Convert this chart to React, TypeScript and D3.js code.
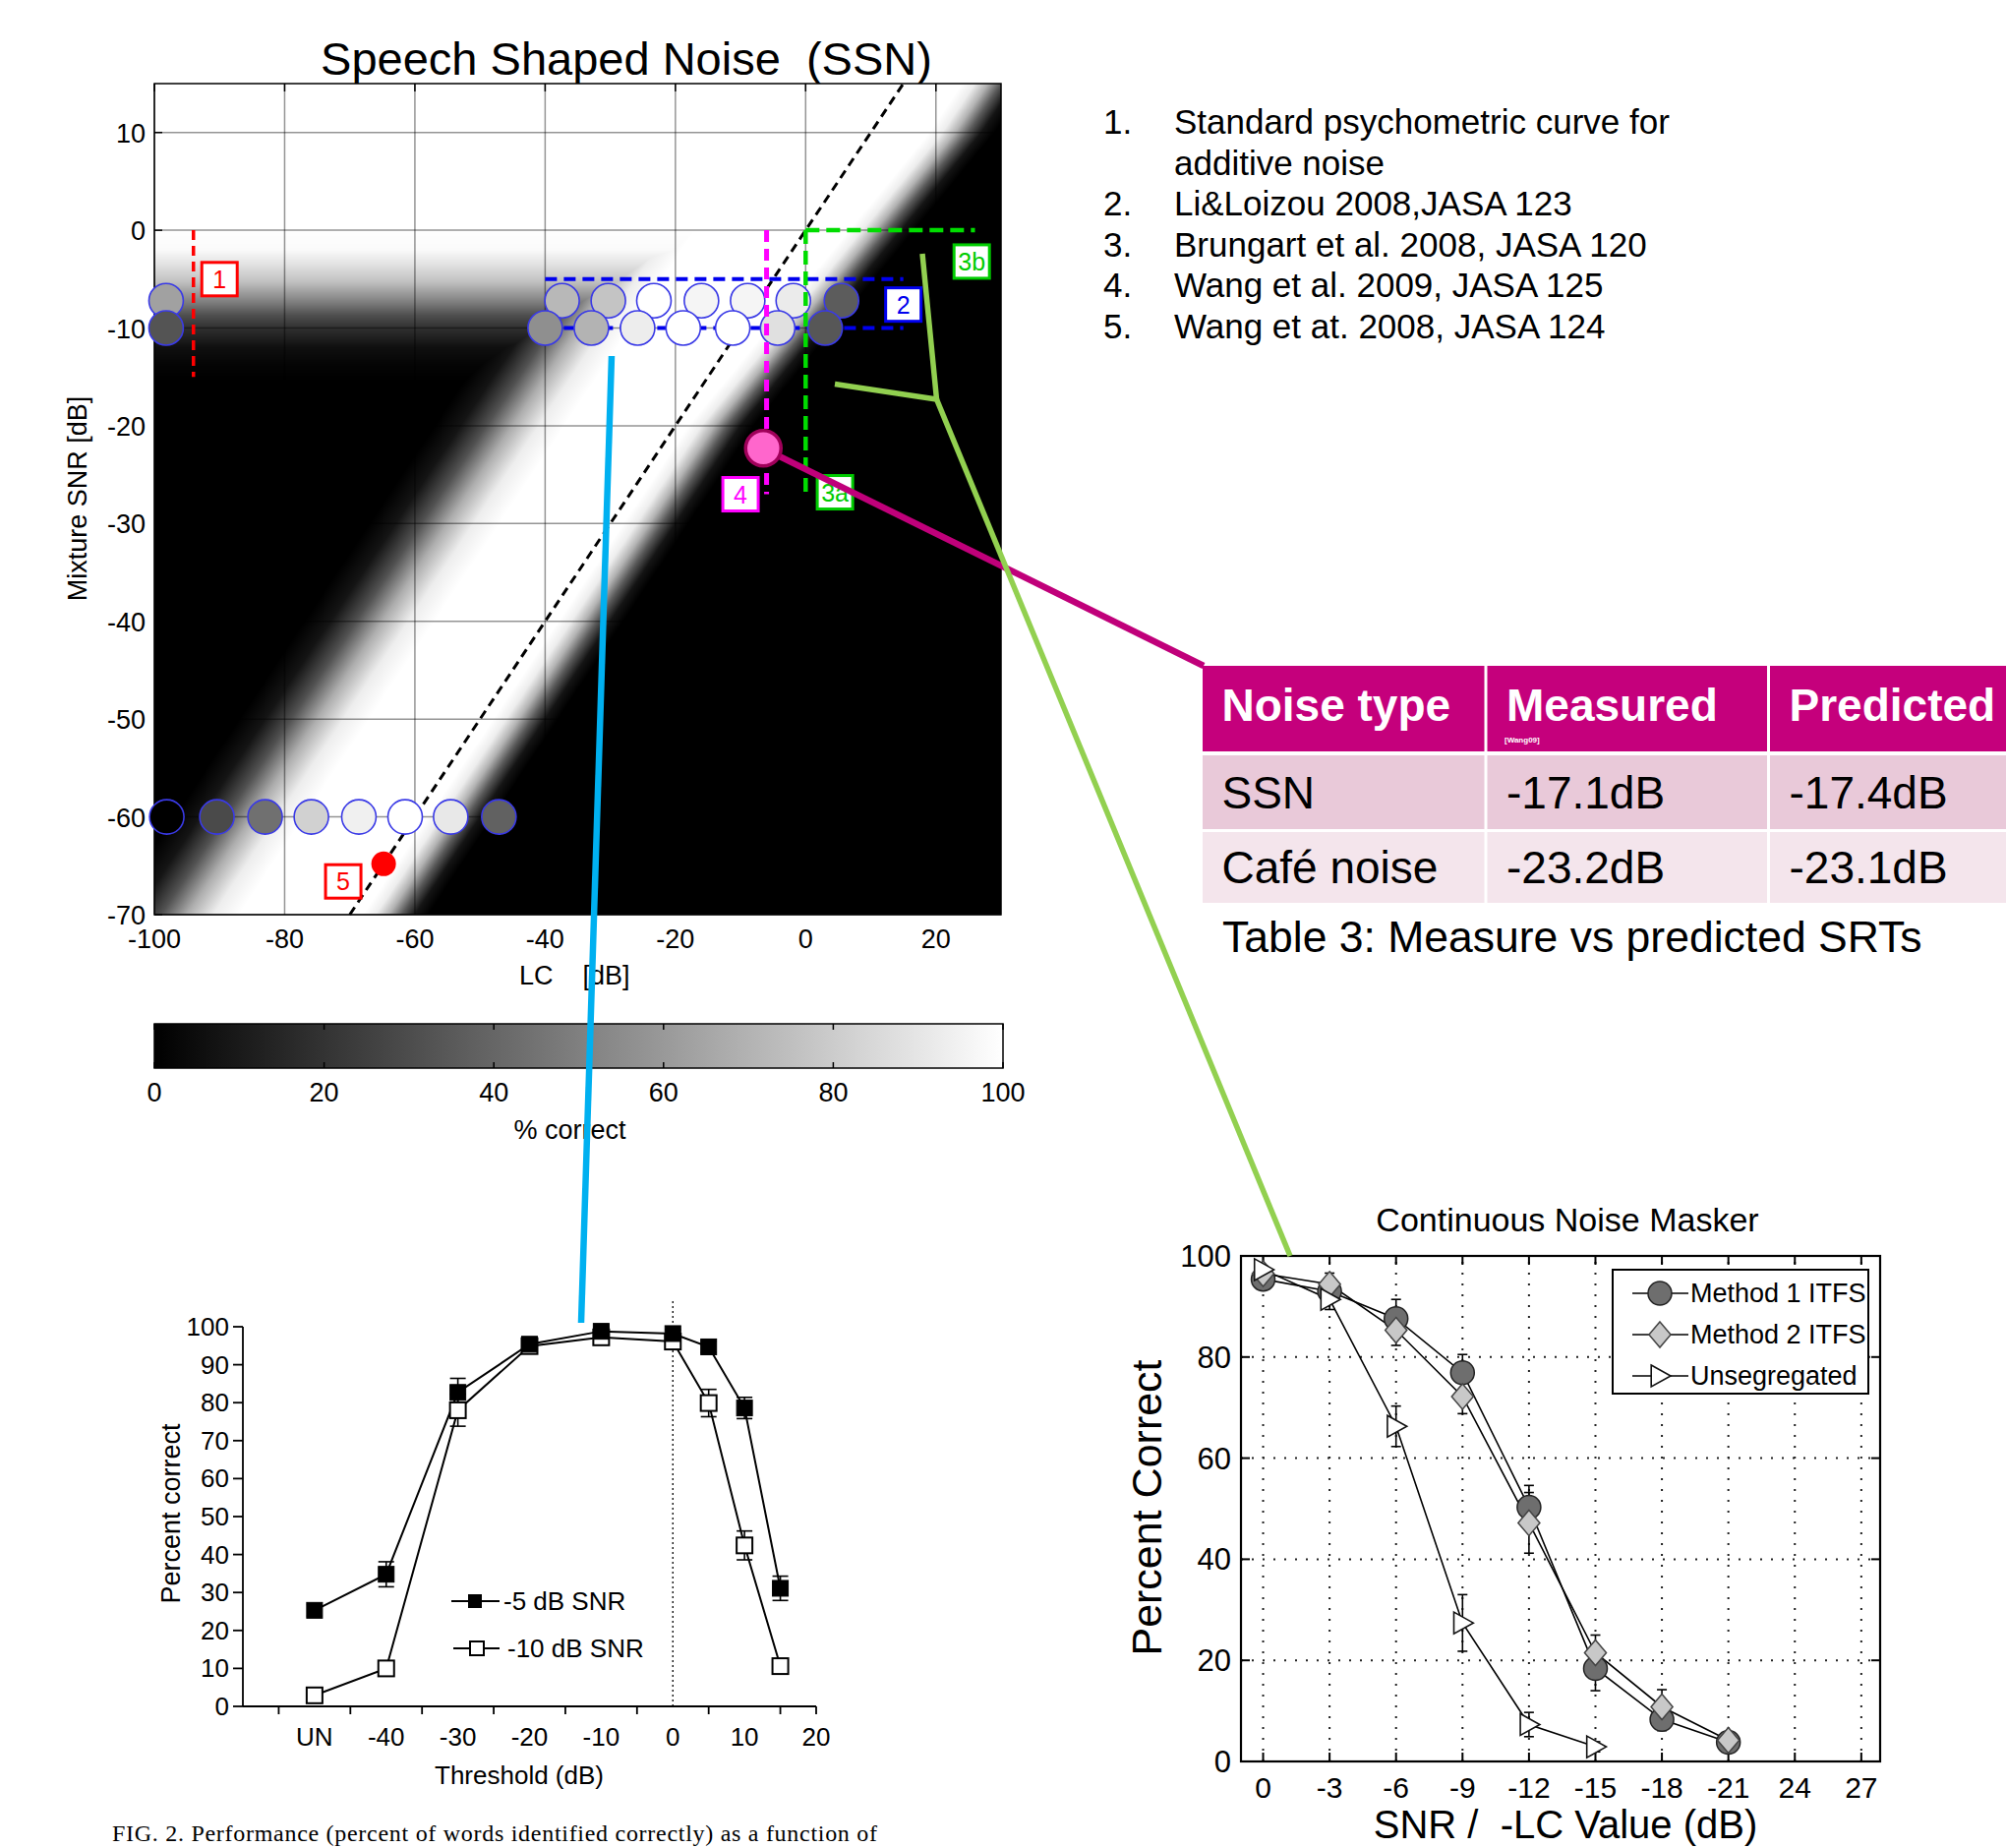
import React, { useMemo } from 'react';
import * as d3 from 'd3';

const F = "'Liberation Sans', Arial, Helvetica, sans-serif";

// ---------- Heatmap (Speech Shaped Noise) ----------
const lcTicks = [-100, -80, -60, -40, -20, 0, 20];
const snrTicks = [10, 0, -10, -20, -30, -40, -50, -60, -70];
const cbTicks = [0, 20, 40, 60, 80, 100];
// intelligibility profile across relative criterion d = LC - SNR
const bandLeftD = [-37, -33, -29, -25, -21, -17];
const bandLeftV = [0, 0.08, 0.32, 0.68, 0.93, 1];
const bandRightD = [2, 4, 6, 8, 10, 12];
const bandRightV = [1, 0.93, 0.7, 0.35, 0.08, 0];
// psychometric curve for unprocessed mixture (far-left region)
const psychSNR = [-15.4, -13.7, -12, -10, -8.7, -7, -5.3, -3.6, -2, 0];
const psychV = [0, 0.02, 0.06, 0.19, 0.31, 0.54, 0.75, 0.88, 0.98, 1];
const rightShiftSNR = [-20, 10];
const rightShiftV = [0, 7];

// data circles on heatmap
const circA_SNR = -7.2;
const circA_LC = [-98.2, -37.4, -30.3, -23.3, -16.0, -8.9, -1.9, 5.5];
const circA_PC = [63, 72, 77, 100, 96, 96, 92, 36];
const circB_SNR = -10;
const circB_LC = [-98.2, -40, -32.9, -25.8, -18.8, -11.2, -4.3, 3.0];
const circB_PC = [33, 56, 70, 93, 100, 100, 88, 34];
const circC_SNR = -60;
const circC_LC = [-98.1, -90.4, -83.0, -75.9, -68.6, -61.5, -54.5, -47.1];
const circC_PC = [0, 29, 44, 82, 94, 100, 91, 38];

// ---------- Text list ----------
const refNums = ['1.', '', '2.', '3.', '4.', '5.'];
const refTexts = [
  'Standard psychometric curve for',
  'additive noise',
  'Li&Loizou 2008,JASA 123',
  'Brungart et al. 2008, JASA 120',
  'Wang et al. 2009, JASA 125',
  'Wang et at. 2008, JASA 124',
];

// ---------- Table ----------
const tableHeaders = ['Noise type', 'Measured', 'Predicted'];
const tableRow1 = ['SSN', '-17.1dB', '-17.4dB'];
const tableRow2 = ['Café noise', '-23.2dB', '-23.1dB'];

// ---------- Bottom-left (Brungart FIG. 2) ----------
const blX = [-50, -40, -30, -20, -10, 0, 5, 10, 15];
const blTickVals = [-50, -40, -30, -20, -10, 0, 10, 20];
const blTickLabels = ['UN', '-40', '-30', '-20', '-10', '0', '10', '20'];
const blMinorTicks = [-55, -45, -35, -25, -15, -5, 5, 15, 20];
const blYTicks = [0, 10, 20, 30, 40, 50, 60, 70, 80, 90, 100];
const snr5 = [25.3, 34.8, 82.7, 95.4, 98.8, 98.2, 94.7, 78.6, 31.1];
const snr5Err = [1.5, 3.3, 3.7, 1.2, 1, 1, 1.5, 2.8, 3.2];
const snr10 = [2.9, 10, 78, 94.9, 97.2, 96.1, 79.9, 42.4, 10.6];
const snr10Err = [0.8, 0.8, 4.2, 1, 1, 1, 3.6, 3.8, 1];

// ---------- Bottom-right (Continuous Noise Masker) ----------
const brX = [0, 3, 6, 9, 12, 15, 18, 21];
const brTickVals = [0, 3, 6, 9, 12, 15, 18, 21, 24, 27];
const brTickLabels = ['0', '-3', '-6', '-9', '-12', '-15', '-18', '-21', '24', '27'];
const brYTicks = [0, 20, 40, 60, 80, 100];
const method1 = [95.4, 93, 87.6, 76.9, 50.3, 18.4, 8.3, 3.8];
const method1Err = [1.5, 2, 3.8, 3.6, 4.3, 4.4, 2.2, 1];
const method2 = [96.5, 94.4, 85.3, 72.2, 47.2, 21.5, 10.8, 4.2];
const method2Err = [1.5, 2.2, 3, 3.4, 6, 3.5, 3.4, 1];
const unsegX = [0, 3, 6, 9, 12, 15];
const unseg = [97.3, 91.4, 66.3, 27.4, 7.3, 2.9];
const unsegErr = [2.7, 2, 4, 5.6, 2.4, 1];

// ---------- scales ----------
const hmX = d3.scaleLinear().domain([-100, 30]).range([157, 1018]);
const hmY = d3.scaleLinear().domain([-70, 15]).range([930, 85]);
const cbX = d3.scaleLinear().domain([0, 100]).range([157, 1020]);
const blXs = d3.scaleLinear().domain([-60, 20]).range([247, 830]);
const blYs = d3.scaleLinear().domain([0, 100]).range([1735, 1349]);
const brXs = d3.scaleLinear().domain([-1, 27.85]).range([1262, 1912]);
const brYs = d3.scaleLinear().domain([0, 100]).range([1791, 1277]);

function buildHeatmap(): string {
  const x0 = hmX.range()[0], x1 = hmX.range()[1];
  const y0 = hmY.range()[1], y1 = hmY.range()[0];
  const w = Math.round(x1 - x0), h = Math.round(y1 - y0);
  const canvas = document.createElement('canvas');
  canvas.width = w; canvas.height = h;
  const ctx = canvas.getContext('2d');
  if (!ctx) return '';
  const img = ctx.createImageData(w, h);
  const L = d3.scaleLinear().domain(bandLeftD).range(bandLeftV).clamp(true);
  const R = d3.scaleLinear().domain(bandRightD).range(bandRightV).clamp(true);
  const P = d3.scaleLinear().domain(psychSNR).range(psychV).clamp(true);
  const S = d3.scaleLinear().domain(rightShiftSNR).range(rightShiftV).clamp(true);
  for (let j = 0; j < h; j++) {
    const snr = hmY.invert(y0 + j + 0.5);
    const p = P(snr);
    const s = S(snr);
    for (let i = 0; i < w; i++) {
      const lc = hmX.invert(x0 + i + 0.5);
      const d = lc - snr;
      const v = R(d - s) * Math.max(L(d), p);
      const g = Math.round(v * 255);
      const k = (j * w + i) * 4;
      img.data[k] = g; img.data[k + 1] = g; img.data[k + 2] = g; img.data[k + 3] = 255;
    }
  }
  ctx.putImageData(img, 0, 0);
  return canvas.toDataURL();
}

const gray = (pc: number) => {
  const g = Math.round((pc / 100) * 255);
  return `rgb(${g},${g},${g})`;
};

function LabelBox({ x, y, text, color, w = 36 }: { x: number; y: number; text: string; color: string; w?: number }) {
  return (
    <g>
      <rect x={x - w / 2} y={y - 17} width={w} height={34} fill="#fff" stroke={color} strokeWidth={3} />
      <text x={x} y={y + 9} textAnchor="middle" fontSize={25} fill={color}>{text}</text>
    </g>
  );
}

function ErrBar({ x, y0, y1, cap }: { x: number; y0: number; y1: number; cap: number }) {
  return (
    <g stroke="#000" strokeWidth={1.6}>
      <line x1={x} x2={x} y1={y0} y2={y1} />
      <line x1={x - cap} x2={x + cap} y1={y0} y2={y0} />
      <line x1={x - cap} x2={x + cap} y1={y1} y2={y1} />
    </g>
  );
}

const Diamond = ({ x, y, s }: { x: number; y: number; s: number }) => (
  <path d={`M${x},${y - s}L${x + s * 0.85},${y}L${x},${y + s}L${x - s * 0.85},${y}Z`} fill="#c8c8c8" stroke="#444" strokeWidth={1.5} />
);
const Tri = ({ x, y, s }: { x: number; y: number; s: number }) => (
  <path d={`M${x - s * 0.8},${y - s}L${x + s},${y}L${x - s * 0.8},${y + s}Z`} fill="#fff" stroke="#111" strokeWidth={1.6} />
);
const Circ = ({ x, y, r }: { x: number; y: number; r: number }) => (
  <circle cx={x} cy={y} r={r} fill="#6e6e6e" stroke="#222" strokeWidth={1.5} />
);

export default function App() {
  const heat = useMemo(() => buildHeatmap(), []);

  const [hx0, hx1] = hmX.range();
  const [hy1, hy0] = hmY.range();

  const blLine = d3.line<number>().x((_, i) => blXs(blX[i])).y((v) => blYs(v));
  const brLine = d3.line<number>().x((_, i) => brXs(brX[i])).y((v) => brYs(v));
  const unLine = d3.line<number>().x((_, i) => brXs(unsegX[i])).y((v) => brYs(v));

  const circleRows = [
    { snr: circA_SNR, lc: circA_LC, pc: circA_PC },
    { snr: circB_SNR, lc: circB_LC, pc: circB_PC },
    { snr: circC_SNR, lc: circC_LC, pc: circC_PC },
  ];

  // table geometry
  const colX = [1223, 1512.5, 1800];
  const colW = [286.5, 284.5, 260];
  const rowY = [677, 768, 846];
  const rowH = [87, 75, 72];
  const rowFill = ['#c5007c', '#e9c9d9', '#f4e5ec'];

  return (
    <svg width={2040} height={1879} style={{ position: 'absolute', left: 0, top: 0, background: '#fff' }} fontFamily={F}>
      <rect x={0} y={0} width={2040} height={1879} fill="#fff" />

      {/* ===== Heatmap ===== */}
      <text x={637} y={76} textAnchor="middle" fontSize={47} style={{ whiteSpace: 'pre' }}>Speech Shaped Noise  (SSN)</text>
      {heat && <image href={heat} x={hx0} y={hy0} width={hx1 - hx0} height={hy1 - hy0} preserveAspectRatio="none" />}
      <g stroke="#000" strokeOpacity={0.42} strokeWidth={1.5}>
        {lcTicks.map((t) => <line key={'gx' + t} x1={hmX(t)} x2={hmX(t)} y1={hy0} y2={hy1} />)}
        {snrTicks.map((t) => <line key={'gy' + t} x1={hx0} x2={hx1} y1={hmY(t)} y2={hmY(t)} />)}
      </g>
      <g stroke="#000" strokeWidth={1.5}>
        {lcTicks.map((t) => <line key={'tt' + t} x1={hmX(t)} x2={hmX(t)} y1={hy0} y2={hy0 + 8} />)}
        {snrTicks.map((t) => <line key={'lt' + t} x1={hx0} x2={hx0 + 8} y1={hmY(t)} y2={hmY(t)} />)}
      </g>
      <rect x={hx0} y={hy0} width={hx1 - hx0} height={hy1 - hy0} fill="none" stroke="#000" strokeWidth={1.5} />
      {lcTicks.map((t) => (
        <text key={'xl' + t} x={hmX(t)} y={964} textAnchor="middle" fontSize={27}>{t}</text>
      ))}
      {snrTicks.map((t) => (
        <text key={'yl' + t} x={148} y={hmY(t) + 10} textAnchor="end" fontSize={27}>{t}</text>
      ))}
      <text transform="translate(88,507) rotate(-90)" textAnchor="middle" fontSize={27}>Mixture SNR [dB]</text>
      <text x={528} y={1001} fontSize={27} style={{ whiteSpace: 'pre' }}>LC    [dB]</text>

      {/* diagonal dashed line LC = SNR */}
      <line x1={hmX(-70)} y1={hmY(-70)} x2={hmX(15)} y2={hmY(15)} stroke="#000" strokeWidth={3} strokeDasharray="9,6" />

      {/* red dashed (1) */}
      <line x1={hmX(-94)} x2={hmX(-94)} y1={hmY(0)} y2={hmY(-15)} stroke="#ff0000" strokeWidth={3.5} strokeDasharray="10,6" />
      {/* blue dashed (2) */}
      <line x1={hmX(-40)} x2={hmX(15)} y1={hmY(-5)} y2={hmY(-5)} stroke="#0000ee" strokeWidth={4} strokeDasharray="12,7" />
      <line x1={hmX(-40)} x2={hmX(15)} y1={hmY(-10)} y2={hmY(-10)} stroke="#0000ee" strokeWidth={4} strokeDasharray="12,7" />

      {/* circles */}
      {circleRows.map((row, ri) =>
        row.lc.map((lc, i) => (
          <circle key={`c${ri}-${i}`} cx={hmX(lc)} cy={hmY(row.snr)} r={17.5} fill={gray(row.pc[i])} stroke="#3a3ae6" strokeWidth={1.6} />
        ))
      )}

      {/* magenta dashed (4) */}
      <line x1={hmX(-6)} x2={hmX(-6)} y1={hmY(0)} y2={hmY(-27)} stroke="#ff00ff" strokeWidth={5} strokeDasharray="12,7" />
      {/* green dashed (3) */}
      <line x1={hmX(0)} x2={hmX(0)} y1={hmY(0)} y2={hmY(-27)} stroke="#00dd00" strokeWidth={4.5} strokeDasharray="14,7" />
      <line x1={hmX(0)} x2={hmX(26)} y1={hmY(0)} y2={hmY(0)} stroke="#00dd00" strokeWidth={4.5} strokeDasharray="14,7" />

      {/* red dot (5) */}
      <circle cx={hmX(-64.8)} cy={hmY(-64.8)} r={12.5} fill="#ff0000" />

      {/* label boxes */}
      <LabelBox x={hmX(-90)} y={hmY(-5)} text="1" color="#ff0000" />
      <LabelBox x={hmX(15)} y={hmY(-7.6)} text="2" color="#0000ee" />
      <LabelBox x={hmX(25.5)} y={hmY(-3.2)} text="3b" color="#00cc00" />
      <LabelBox x={hmX(4.5)} y={hmY(-26.8)} text="3a" color="#00cc00" />
      <LabelBox x={hmX(-10)} y={hmY(-27)} text="4" color="#ff00ff" />
      <LabelBox x={hmX(-71)} y={hmY(-66.6)} text="5" color="#ff0000" />

      {/* ===== Colorbar ===== */}
      <defs>
        <linearGradient id="cbg" x1="0" x2="1" y1="0" y2="0">
          <stop offset="0" stopColor="#000" />
          <stop offset="1" stopColor="#fff" />
        </linearGradient>
      </defs>
      <rect x={cbX(0)} y={1041} width={cbX(100) - cbX(0)} height={45} fill="url(#cbg)" stroke="#000" strokeWidth={1.5} />
      <g stroke="#000" strokeWidth={1.5}>
        {cbTicks.map((t) => (
          <g key={'cbt' + t}>
            <line x1={cbX(t)} x2={cbX(t)} y1={1041} y2={1047} />
            <line x1={cbX(t)} x2={cbX(t)} y1={1080} y2={1086} />
          </g>
        ))}
      </g>
      {cbTicks.map((t) => (
        <text key={'cbl' + t} x={cbX(t)} y={1120} textAnchor="middle" fontSize={27}>{t}</text>
      ))}
      <text x={cbX(50) - 9} y={1158} textAnchor="middle" fontSize={27}>% correct</text>

      {/* ===== Reference list ===== */}
      {refTexts.map((t, i) => (
        <g key={'ref' + i}>
          <text x={1122} y={136 + i * 41.6} fontSize={35}>{refNums[i]}</text>
          <text x={1194} y={136 + i * 41.6} fontSize={35}>{t}</text>
        </g>
      ))}

      {/* ===== Table ===== */}
      {[tableHeaders, tableRow1, tableRow2].map((row, ri) =>
        row.map((cell, ci) => (
          <g key={`t${ri}-${ci}`}>
            <rect x={colX[ci]} y={rowY[ri]} width={colW[ci]} height={rowH[ri]} fill={rowFill[ri]} />
            <text
              x={colX[ci] + 19.5}
              y={ri === 0 ? 733 : ri === 1 ? 822 : 898}
              fontSize={46}
              fontWeight={ri === 0 ? 'bold' : 'normal'}
              fill={ri === 0 ? '#fff' : '#000'}
            >
              {cell}
            </text>
          </g>
        ))
      )}
      <text x={1530} y={755} fontSize={8} fontWeight="bold" fill="#fff">[Wang09]</text>
      <text x={1243} y={968} fontSize={44.5}>Table 3: Measure vs predicted SRTs</text>

      {/* ===== Bottom-left chart ===== */}
      <line x1={blXs(0)} x2={blXs(0)} y1={1323} y2={blYs(0)} stroke="#000" strokeWidth={1.3} strokeDasharray="2,3" />
      <g stroke="#000" strokeWidth={1.8}>
        <line x1={blXs(-60)} x2={blXs(-60)} y1={blYs(0)} y2={blYs(100)} />
        <line x1={blXs(-60)} x2={blXs(20)} y1={blYs(0)} y2={blYs(0)} />
        {blYTicks.map((t) => <line key={'blyt' + t} x1={blXs(-60) - 10} x2={blXs(-60)} y1={blYs(t)} y2={blYs(t)} />)}
        {blMinorTicks.map((t) => <line key={'blxt' + t} x1={blXs(t)} x2={blXs(t)} y1={blYs(0)} y2={blYs(0) + 8} />)}
      </g>
      {blYTicks.map((t) => (
        <text key={'blyl' + t} x={233} y={blYs(t) + 9} textAnchor="end" fontSize={26}>{t}</text>
      ))}
      {blTickVals.map((t, i) => (
        <text key={'blxl' + t} x={blXs(t)} y={1775} textAnchor="middle" fontSize={26}>{blTickLabels[i]}</text>
      ))}
      <text transform="translate(183,1539) rotate(-90)" textAnchor="middle" fontSize={27}>Percent correct</text>
      <text x={528} y={1814} textAnchor="middle" fontSize={26}>Threshold (dB)</text>
      <path d={blLine(snr5) || ''} fill="none" stroke="#000" strokeWidth={2} />
      <path d={blLine(snr10) || ''} fill="none" stroke="#000" strokeWidth={2} />
      {snr5.map((v, i) => (
        <ErrBar key={'e5' + i} x={blXs(blX[i])} y0={blYs(v + snr5Err[i])} y1={blYs(v - snr5Err[i])} cap={8} />
      ))}
      {snr10.map((v, i) => (
        <ErrBar key={'e10' + i} x={blXs(blX[i])} y0={blYs(v + snr10Err[i])} y1={blYs(v - snr10Err[i])} cap={8} />
      ))}
      {snr10.map((v, i) => (
        <rect key={'s10' + i} x={blXs(blX[i]) - 8} y={blYs(v) - 8} width={16} height={16} fill="#fff" stroke="#000" strokeWidth={2} />
      ))}
      {snr5.map((v, i) => (
        <rect key={'s5' + i} x={blXs(blX[i]) - 8} y={blYs(v) - 8} width={16} height={16} fill="#000" stroke="#000" strokeWidth={1} />
      ))}
      <line x1={459} x2={508} y1={1628} y2={1628} stroke="#000" strokeWidth={2} />
      <rect x={476} y={1621} width={14} height={14} fill="#000" />
      <text x={512} y={1637} fontSize={26}>-5 dB SNR</text>
      <line x1={461} x2={508} y1={1676} y2={1676} stroke="#000" strokeWidth={2} />
      <rect x={478} y={1669} width={14} height={14} fill="#fff" stroke="#000" strokeWidth={2} />
      <text x={516} y={1685} fontSize={26}>-10 dB SNR</text>
      <text x={114} y={1872} fontSize={24} fontFamily="'Liberation Serif', 'Times New Roman', serif" textLength={778} lengthAdjust="spacing">
        FIG. 2. Performance (percent of words identified correctly) as a function of
      </text>

      {/* ===== Bottom-right chart ===== */}
      <text x={1594} y={1252} textAnchor="middle" fontSize={34}>Continuous Noise Masker</text>
      <g stroke="#222" strokeWidth={2} strokeDasharray="2,9">
        {brTickVals.map((t) => <line key={'bgx' + t} x1={brXs(t)} x2={brXs(t)} y1={brYs(0)} y2={brYs(100)} />)}
        {[20, 40, 60, 80].map((t) => <line key={'bgy' + t} x1={brXs(-1)} x2={brXs(27.85)} y1={brYs(t)} y2={brYs(t)} />)}
      </g>
      <g stroke="#000" strokeWidth={2}>
        {brTickVals.map((t) => (
          <g key={'btx' + t}>
            <line x1={brXs(t)} x2={brXs(t)} y1={brYs(0)} y2={brYs(0) - 9} />
            <line x1={brXs(t)} x2={brXs(t)} y1={brYs(100)} y2={brYs(100) + 9} />
          </g>
        ))}
        {brYTicks.map((t) => (
          <g key={'bty' + t}>
            <line x1={brXs(-1)} x2={brXs(-1) + 9} y1={brYs(t)} y2={brYs(t)} />
            <line x1={brXs(27.85)} x2={brXs(27.85) - 9} y1={brYs(t)} y2={brYs(t)} />
          </g>
        ))}
      </g>
      <rect x={brXs(-1)} y={brYs(100)} width={brXs(27.85) - brXs(-1)} height={brYs(0) - brYs(100)} fill="none" stroke="#000" strokeWidth={2.2} />
      {brYTicks.map((t) => (
        <text key={'bryl' + t} x={1252} y={brYs(t) + 11} textAnchor="end" fontSize={31}>{t}</text>
      ))}
      {brTickVals.map((t, i) => (
        <text key={'brxl' + t} x={brXs(t)} y={1828} textAnchor="middle" fontSize={30}>{brTickLabels[i]}</text>
      ))}
      <text transform="translate(1181,1533) rotate(-90)" textAnchor="middle" fontSize={43}>Percent Correct</text>
      <text x={1592} y={1869} textAnchor="middle" fontSize={40} style={{ whiteSpace: 'pre' }}>SNR /  -LC Value (dB)</text>

      <path d={brLine(method1) || ''} fill="none" stroke="#000" strokeWidth={1.6} />
      <path d={brLine(method2) || ''} fill="none" stroke="#000" strokeWidth={1.6} />
      <path d={unLine(unseg) || ''} fill="none" stroke="#000" strokeWidth={1.6} />
      {method1.map((v, i) => (
        <ErrBar key={'m1e' + i} x={brXs(brX[i])} y0={brYs(v + method1Err[i])} y1={brYs(v - method1Err[i])} cap={5} />
      ))}
      {method2.map((v, i) => (
        <ErrBar key={'m2e' + i} x={brXs(brX[i])} y0={brYs(v + method2Err[i])} y1={brYs(v - method2Err[i])} cap={5} />
      ))}
      {unseg.map((v, i) => (
        <ErrBar key={'ue' + i} x={brXs(unsegX[i])} y0={brYs(v + unsegErr[i])} y1={brYs(v - unsegErr[i])} cap={5} />
      ))}
      {method1.map((v, i) => <Circ key={'m1' + i} x={brXs(brX[i])} y={brYs(v)} r={12} />)}
      {method2.map((v, i) => <Diamond key={'m2' + i} x={brXs(brX[i])} y={brYs(v)} s={13} />)}
      {unseg.map((v, i) => <Tri key={'u' + i} x={brXs(unsegX[i])} y={brYs(v)} s={11} />)}
      <rect x={1640} y={1291} width={260} height={126} fill="#fff" stroke="#000" strokeWidth={2} />
      <line x1={1660} x2={1717} y1={1315} y2={1315} stroke="#000" strokeWidth={1.6} />
      <Circ x={1688} y={1315} r={12} />
      <text x={1719} y={1324} fontSize={27}>Method 1 ITFS</text>
      <line x1={1660} x2={1717} y1={1357} y2={1357} stroke="#000" strokeWidth={1.6} />
      <Diamond x={1688} y={1357} s={13} />
      <text x={1719} y={1366} fontSize={27}>Method 2 ITFS</text>
      <line x1={1660} x2={1717} y1={1399} y2={1399} stroke="#000" strokeWidth={1.6} />
      <Tri x={1688} y={1399} s={11} />
      <text x={1719} y={1408} fontSize={27}>Unsegregated</text>

      {/* ===== Connectors ===== */}
      <line x1={622} y1={362} x2={591} y2={1345} stroke="#00b0f0" strokeWidth={6.5} />
      <line x1={hmX(-6.5)} y1={hmY(-22.3)} x2={1224} y2={677} stroke="#c0007a" strokeWidth={6.5} />
      <circle cx={hmX(-6.5)} cy={hmY(-22.3)} r={18} fill="#ff66cc" stroke="#a0005a" strokeWidth={3.5} />
      <polyline points="938,258 952.5,406 849,390.5" fill="none" stroke="#92d050" strokeWidth={5.5} strokeLinejoin="round" />
      <line x1={952.5} y1={406} x2={1312} y2={1277} stroke="#92d050" strokeWidth={5.5} />
    </svg>
  );
}
